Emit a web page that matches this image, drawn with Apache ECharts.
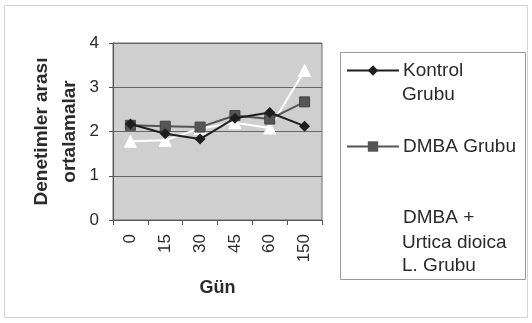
<!DOCTYPE html>
<html>
<head>
<meta charset="utf-8">
<script src="https://cdn.jsdelivr.net/npm/echarts@6/dist/echarts.min.js"></script>
<style>
  html, body { margin: 0; padding: 0; background: #fff; }
  #chart { width: 532px; height: 323px; }
</style>
</head>
<body>
<div id="chart"></div>
<script>
// Days of observation
const days = ['0', '15', '30', '45', '60', '150'];
// Mean scores between observations for each group
const kontrol = [2.17, 1.95, 1.83, 2.3, 2.43, 2.12];
const dmba = [2.14, 2.12, 2.1, 2.36, 2.28, 2.67];
const urtica = [1.78, 1.8, 2.07, 2.2, 2.08, 3.38];
const yTicks = [0, 1, 2, 3, 4];

const seriesNames = ['Kontrol Grubu', 'DMBA Grubu', 'DMBA + Urtica dioica L. Grubu'];
const font = 'Liberation Sans, Arial, sans-serif';
const textColor = '#2a2a2a';

const chart = echarts.init(document.getElementById('chart'), null, { renderer: 'canvas' });

const legendBase = {
  orient: 'vertical',
  left: 346,
  padding: 0,
  itemWidth: 52,
  itemHeight: 13,
  itemGap: 0,
  textStyle: { fontFamily: font, fontSize: 19, color: textColor, padding: [0, 0, 0, -1] },
  selectedMode: false
};

chart.setOption({
  animation: false,
  backgroundColor: '#fff',
  grid: {
    left: 113, right: 210, top: 43, bottom: 103,
    show: true, backgroundColor: '#cfcfcf', borderColor: '#6f6f6f', borderWidth: 1
  },
  legend: [
    Object.assign({}, legendBase, { top: 61, data: [seriesNames[0]], formatter: () => 'Kontrol' }),
    Object.assign({}, legendBase, { top: 137, data: [seriesNames[1]], formatter: () => 'DMBA Grubu' }),
    Object.assign({}, legendBase, { top: 208, data: [seriesNames[2]], formatter: () => 'DMBA +' })
  ],
  graphic: [
    { type: 'rect', shape: { x: 4.5, y: 5.5, width: 523, height: 312 },
      style: { fill: 'none', stroke: '#d4d4d4', lineWidth: 1 }, silent: true },
    { type: 'rect', shape: { x: 340.5, y: 52.5, width: 185, height: 227 },
      style: { fill: 'none', stroke: '#999', lineWidth: 1 }, silent: true },
    { type: 'text', left: 402, top: 85,
      style: { text: 'Grubu', font: '19px ' + font, fill: textColor } },
    { type: 'text', left: 402, top: 231,
      style: { text: 'Urtica dioica\nL. Grubu', font: '19px ' + font, fill: textColor, lineHeight: 23 } }
  ],
  xAxis: {
    type: 'category',
    data: days,
    boundaryGap: true,
    name: 'Gün',
    nameLocation: 'middle',
    nameGap: 59,
    nameTextStyle: { fontFamily: font, fontSize: 18, fontWeight: 'bold', color: textColor },
    axisLine: { lineStyle: { color: '#555', width: 1 } },
    axisTick: { show: true, lineStyle: { color: '#555' } },
    axisLabel: { rotate: 90, fontFamily: font, fontSize: 17, color: textColor, margin: 14 }
  },
  yAxis: {
    type: 'value',
    min: 0, max: 4, interval: 1,
    name: 'Denetimler arası\nortalamalar',
    nameLocation: 'middle',
    nameGap: 29,
    nameRotate: 90,
    nameTextStyle: { fontFamily: font, fontSize: 19, fontWeight: 'bold', color: textColor, lineHeight: 28 },
    axisLine: { show: true, lineStyle: { color: '#555' } },
    axisTick: { show: true, length: 4, lineStyle: { color: '#555' } },
    axisLabel: { fontFamily: font, fontSize: 17, color: textColor, margin: 14,
      formatter: v => yTicks.includes(v) ? String(v) : '' },
    splitLine: { lineStyle: { color: '#666', width: 1 } }
  },
  series: [
    {
      name: seriesNames[2], type: 'line', data: urtica, z: 2,
      symbol: 'triangle', symbolSize: 12,
      lineStyle: { color: '#fff', width: 2 },
      itemStyle: { color: '#fff', borderColor: '#fff' }
    },
    {
      name: seriesNames[1], type: 'line', data: dmba, z: 3,
      symbol: 'rect', symbolSize: 10,
      lineStyle: { color: '#555', width: 2 },
      itemStyle: { color: '#555', borderColor: '#444' }
    },
    {
      name: seriesNames[0], type: 'line', data: kontrol, z: 4,
      symbol: 'diamond', symbolSize: 11,
      lineStyle: { color: '#1e1e1e', width: 2 },
      itemStyle: { color: '#1e1e1e' }
    }
  ]
});
</script>
</body>
</html>
